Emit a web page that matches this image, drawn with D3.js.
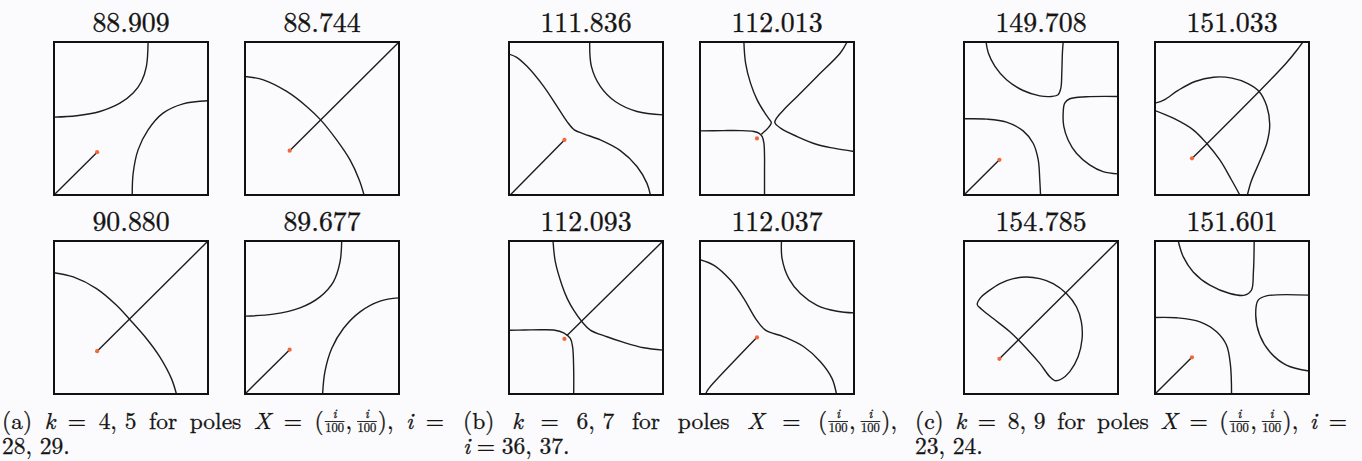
<!DOCTYPE html>
<html><head><meta charset="utf-8">
<script src="https://cdn.jsdelivr.net/npm/d3@7"></script>
<style>
html,body{margin:0;padding:0;background:#fbfbfd;}
svg{display:block;}
</style></head><body>
<svg id="fig" width="1362" height="461"></svg>
<script>
// Eigenvalue of each panel, order: top-left, top-right, bottom-left, bottom-right
const energiesA = [88.909, 88.744, 90.880, 89.677];
const energiesB = [111.836, 112.013, 112.093, 112.037];
const energiesC = [149.708, 151.033, 154.785, 151.601];

// pole index i per column, pole at (i/100, i/100)
const polesA = [28, 29];
const polesB = [36, 37];
const polesC = [23, 24];

// nodal lines of each panel, unit-square coordinates (open curves)
const curvesA = [
  [ [[0,0],[0.28,0.28]],
    [[0.611,1],[0.600,0.841],[0.568,0.742],[0.514,0.666],[0.428,0.600],[0.298,0.546],[0.147,0.518],[0,0.509]],
    [[0.508,0],[0.514,0.142],[0.546,0.295],[0.611,0.426],[0.708,0.535],[0.838,0.596],[1,0.616]] ],
  [ [[0.29,0.29],[1,1]],
    [[0,0.775],[0.119,0.753],[0.271,0.677],[0.400,0.579],[0.491,0.491],[0.595,0.360],[0.682,0.229],[0.742,0.098],[0.773,0]] ],
  [ [[0.28,0.28],[1,1]],
    [[0,0.793],[0.125,0.765],[0.276,0.689],[0.406,0.580],[0.492,0.487],[0.600,0.363],[0.687,0.243],[0.762,0.102],[0.795,0]] ],
  [ [[0,0],[0.29,0.29]],
    [[0.628,1],[0.617,0.863],[0.574,0.733],[0.487,0.635],[0.357,0.563],[0.184,0.522],[0,0.509]],
    [[0.504,0],[0.519,0.146],[0.563,0.298],[0.639,0.428],[0.747,0.537],[0.877,0.607],[1,0.628]] ]
];
const curvesB = [
  [ [[0.008,0],[0.36,0.36]],
    [[0.524,1],[0.535,0.841],[0.593,0.710],[0.690,0.611],[0.831,0.546],[1,0.524]],
    [[0,0.921],[0.05,0.9],[0.117,0.841],[0.225,0.710],[0.312,0.579],[0.377,0.480],[0.424,0.426],[0.485,0.400],[0.593,0.360],[0.723,0.290],[0.831,0.186],[0.896,0.076],[0.918,0]] ],
  [ [[0.285,1],[0.296,0.862],[0.328,0.731],[0.371,0.622],[0.425,0.530],[0.452,0.492],[0.463,0.473],[0.448,0.445],[0.422,0.418],[0.398,0.397]],
    [[0,0.419],[0.15,0.421],[0.262,0.421],[0.35,0.415],[0.382,0.404],[0.404,0.382],[0.415,0.339],[0.419,0.25],[0.419,0.164],[0.419,0]],
    [[0.955,1],[0.911,0.928],[0.760,0.775],[0.631,0.644],[0.544,0.557],[0.497,0.502],[0.486,0.473],[0.523,0.437],[0.631,0.382],[0.76,0.33],[0.868,0.306],[1,0.284]] ],
  [ [[0.375,0.38],[1,1]],
    [[0.286,1],[0.301,0.863],[0.344,0.711],[0.380,0.62],[0.42,0.548],[0.474,0.472],[0.528,0.418],[0.636,0.374],[0.745,0.337],[0.874,0.302],[1,0.287]],
    [[0,0.417],[0.1,0.418],[0.203,0.42],[0.29,0.418],[0.355,0.40],[0.398,0.363],[0.413,0.308],[0.42,0.157],[0.42,0]] ],
  [ [[0.367,0.367],[0.06,0.04],[0.045,0.018],[0.037,0]],
    [[0.529,1],[0.533,0.885],[0.577,0.754],[0.652,0.657],[0.760,0.580],[0.890,0.541],[1,0.530]],
    [[0,0.878],[0.091,0.841],[0.199,0.743],[0.285,0.624],[0.361,0.493],[0.425,0.417],[0.544,0.374],[0.674,0.309],[0.782,0.211],[0.857,0.102],[0.886,0]] ]
];
const curvesC = [
  [ [[0,0],[0.23,0.23]],
    [[0.143,1],[0.158,0.928],[0.201,0.841],[0.276,0.753],[0.384,0.683],[0.492,0.648],[0.568,0.644],[0.611,0.655],[0.629,0.699],[0.635,0.797],[0.639,0.928],[0.644,1]],
    [[1,0.644],[0.795,0.642],[0.687,0.629],[0.654,0.600],[0.644,0.535],[0.648,0.448],[0.676,0.360],[0.730,0.273],[0.816,0.197],[0.903,0.153],[1,0.138]],
    [[0,0.498],[0.147,0.496],[0.276,0.476],[0.384,0.419],[0.449,0.338],[0.482,0.229],[0.492,0.098],[0.497,0]] ],
  [ [[0.24,0.238],[0.85,0.86],[0.935,0.965],[0.96,1]],
    [[0,0.600],[0.06,0.622],[0.150,0.684],[0.260,0.742],[0.380,0.770],[0.500,0.764],[0.600,0.730],[0.676,0.677],[0.726,0.580],[0.745,0.460],[0.728,0.345],[0.680,0.220],[0.625,0.090],[0.600,0]],
    [[0,0.552],[0.119,0.502],[0.248,0.426],[0.335,0.338],[0.421,0.229],[0.497,0.098],[0.551,0]] ],
  [ [[0.23,0.23],[1,1]] ],
  [ [[0,0],[0.24,0.24]],
    [[0.151,1],[0.184,0.896],[0.248,0.798],[0.356,0.711],[0.486,0.657],[0.583,0.646],[0.626,0.678],[0.639,0.798],[0.644,1]],
    [[1,0.646],[0.724,0.641],[0.670,0.613],[0.654,0.515],[0.680,0.385],[0.745,0.276],[0.853,0.189],[1,0.150]],
    [[0,0.5],[0.140,0.498],[0.292,0.472],[0.400,0.407],[0.464,0.320],[0.490,0.189],[0.497,0]] ]
];
// closed nodal loops
const loopsC = [[], [],
  [ [[0.086,0.585],[0.108,0.630],[0.158,0.672],[0.233,0.722],[0.320,0.754],[0.406,0.765],[0.492,0.754],[0.579,0.722],[0.665,0.657],[0.730,0.570],[0.762,0.472],[0.767,0.363],[0.741,0.243],[0.687,0.146],[0.633,0.098],[0.590,0.087],[0.557,0.113],[0.492,0.200],[0.406,0.298],[0.298,0.407],[0.190,0.493],[0.112,0.556]] ],
  []];

// sub-captions: "~" is a stretchable gap, {m} math italic, {f} fraction, {s} fixed space
const captionA = [
  ["(a)","~",{m:"k"},"~","=","~","4, 5","~","for","~","poles","~",{m:"X"},"~","=","~","(",{f:["i","100"]},",",{s:4},{f:["i","100"]},"),","~",{m:"i"},"~","="],
  ["28, 29."]
];
const captionB = [
  ["(b)","~",{m:"k"},"~","=","~","6, 7","~","for","~","poles","~",{m:"X"},"~","=","~","(",{f:["i","100"]},",",{s:4},{f:["i","100"]},"),"],
  [{m:"i"},"~","=","~","36, 37."]
];
const captionC = [
  ["(c)","~",{m:"k"},"~","=","~","8, 9","~","for","~","poles","~",{m:"X"},"~","=","~","(",{f:["i","100"]},",",{s:4},{f:["i","100"]},"),","~",{m:"i"},"~","="],
  ["23, 24."]
];

const groups = [
  {energies: energiesA, poles: polesA, curves: curvesA, loops: [[],[],[],[]], caption: captionA, x0: 0, capX: 2, capW: 442},
  {energies: energiesB, poles: polesB, curves: curvesB, loops: [[],[],[],[]], caption: captionB, x0: 455, capX: 463, capW: 434},
  {energies: energiesC, poles: polesC, curves: curvesC, loops: loopsC, caption: captionC, x0: 910, capX: 915, capW: 432}
];

const FONT = '"Latin Modern Roman", "CMU Serif", "Liberation Serif", serif';
const INK = "#141414";
const svg = d3.select("#fig");
const colLeft = [54, 245], rowTop = [42, 241];
const boxW = 154, boxH = 153;
const titleBase = [32, 231];
const fmt = d3.format(".3f");

groups.forEach((grp, gi) => {
  grp.energies.forEach((e, p) => {
    const row = Math.floor(p / 2), col = p % 2;
    const left = grp.x0 + colLeft[col], top = rowTop[row];
    const x = d3.scaleLinear().domain([0, 1]).range([left, left + boxW]);
    const y = d3.scaleLinear().domain([0, 1]).range([top + boxH, top]);
    const id = `clip-${gi}-${p}`;
    svg.append("clipPath").attr("id", id).append("rect")
      .attr("x", x(0)).attr("y", y(1)).attr("width", x(1) - x(0)).attr("height", y(0) - y(1));
    const panel = svg.append("g");
    const curves = panel.append("g").attr("clip-path", `url(#${id})`);

    const open = d3.line().x(d => x(d[0])).y(d => y(d[1])).curve(d3.curveCatmullRom.alpha(0.5));
    const closed = d3.line().x(d => x(d[0])).y(d => y(d[1])).curve(d3.curveCatmullRomClosed.alpha(0.5));
    curves.selectAll("path.open").data(grp.curves[p]).join("path").attr("class", "open")
      .attr("d", open).attr("fill", "none").attr("stroke", "#1d1d1f").attr("stroke-width", 1.4);
    curves.selectAll("path.loop").data(grp.loops[p]).join("path").attr("class", "loop")
      .attr("d", closed).attr("fill", "none").attr("stroke", "#1d1d1f").attr("stroke-width", 1.4);

    panel.append("rect")
      .attr("x", x(0)).attr("y", y(1)).attr("width", x(1) - x(0)).attr("height", y(0) - y(1))
      .attr("fill", "none").attr("stroke", "#111").attr("stroke-width", 2);

    const pc = grp.poles[col] / 100;
    panel.append("circle").attr("cx", x(pc)).attr("cy", y(pc)).attr("r", 2.1).attr("fill", "#f2683a");

    svg.append("text")
      .attr("x", (x(0) + x(1)) / 2).attr("y", titleBase[row])
      .attr("text-anchor", "middle")
      .style("font-family", FONT).style("font-size", "27.8px")
      .style("fill", INK).style("stroke", INK).style("stroke-width", "0.35px")
      .text(fmt(e));
  });

  const capBase = [429, 454];
  grp.caption.forEach((atoms, li) => {
    setLine(svg.append("g"), atoms, grp.capX, capBase[li], li === 0 ? grp.capW : null);
  });
});

function setLine(g, atoms, x0, base, width) {
  const size = 23.5, fsize = 12.5;
  const styled = sel => sel.style("font-family", FONT).style("fill", INK)
    .style("stroke", INK).style("stroke-width", "0.3px");
  const nodes = [];
  let natural = 0, gaps = 0;
  atoms.forEach(a => {
    if (a === "~") { gaps++; nodes.push({kind: "gap"}); return; }
    if (typeof a === "string" || a.m) {
      const t = styled(g.append("text")).attr("y", base).style("font-size", size + "px")
        .style("font-style", a.m ? "italic" : "normal").text(a.m || a);
      const w = t.node().getComputedTextLength();
      nodes.push({kind: "t", t, w}); natural += w; return;
    }
    if (a.s) { nodes.push({kind: "s", w: a.s}); natural += a.s; return; }
    if (a.f) {
      const num = styled(g.append("text")).attr("y", base - 11).style("font-size", fsize + "px")
        .style("font-style", "italic").attr("text-anchor", "middle").text(a.f[0]);
      const den = styled(g.append("text")).attr("y", base + 3).style("font-size", fsize + "px")
        .attr("text-anchor", "middle").text(a.f[1]);
      const w = Math.max(num.node().getComputedTextLength(), den.node().getComputedTextLength()) + 3;
      const bar = g.append("line").attr("y1", base - 7.5).attr("y2", base - 7.5)
        .attr("stroke", INK).attr("stroke-width", 0.9);
      nodes.push({kind: "f", num, den, bar, w}); natural += w;
    }
  });
  const gapW = width ? (width - natural) / gaps : size * 0.28;
  let x = x0;
  nodes.forEach(n => {
    if (n.kind === "gap") { x += gapW; return; }
    if (n.kind === "t") n.t.attr("x", x);
    if (n.kind === "f") {
      n.num.attr("x", x + n.w / 2);
      n.den.attr("x", x + n.w / 2);
      n.bar.attr("x1", x + 1).attr("x2", x + n.w - 1);
    }
    x += n.w;
  });
}
</script>
</body></html>
